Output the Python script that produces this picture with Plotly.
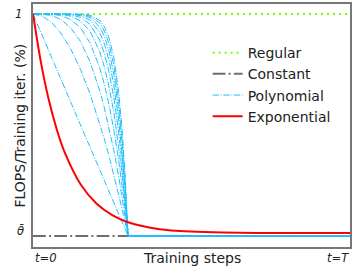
import plotly.graph_objects as go

# ---- data ----
t_regular = [0.0, 1.0]
y_regular = [1.0, 1.0]

theta = 0.1
t_constant = [0.0, 1.0]
y_constant = [theta, theta]

t_poly = [0, 0.03, 0.06, 0.09, 0.12, 0.15, 0.18, 0.21, 0.225, 0.24, 0.255, 0.27, 0.28, 0.29, 0.30, 1.0]
poly_p1 = [1, .91, .82, .73, .64, .55, .46, .37, .325, .28, .235, .19, .16, .13, .1, .1]
poly_p2 = [1, .991, .964, .919, .856, .775, .676, .559, .494, .424, .350, .271, .216, .159, .1, .1]
poly_p3 = [1, .999, .993, .976, .942, .888, .806, .691, .620, .539, .447, .344, .268, .187, .1, .1]
poly_p4 = [1, 1, .999, .993, .977, .944, .883, .784, .715, .631, .530, .410, .317, .214, .1, .1]
poly_p5 = [1, 1, 1, .998, .991, .972, .930, .849, .786, .705, .601, .469, .363, .240, .1, .1]
poly_p6 = [1, 1, 1, .999, .996, .986, .958, .894, .840, .764, .661, .522, .405, .265, .1, .1]
poly_p7 = [1, 1, 1, 1, .999, .993, .975, .926, .880, .811, .711, .570, .445, .290, .1, .1]
poly_p8 = [1, 1, 1, 1, .999, .996, .985, .948, .910, .849, .755, .613, .482, .314, .1, .1]
poly_p9 = [1, 1, 1, 1, 1, .998, .991, .964, .932, .879, .792, .651, .516, .336, .1, .1]
poly_p10 = [1, 1, 1, 1, 1, .999, .995, .975, .949, .903, .823, .686, .549, .359, .1, .1]
poly_series = [poly_p1, poly_p2, poly_p3, poly_p4, poly_p5,
               poly_p6, poly_p7, poly_p8, poly_p9, poly_p10]

t_exp = [0, 0.025, 0.05, 0.075, 0.1, 0.15, 0.2, 0.25, 0.3, 0.4, 0.5, 0.6, 0.8, 1.0]
y_exp = [1.0, 0.804, 0.651, 0.532, 0.439, 0.310, 0.232, 0.185, 0.156, 0.128, 0.118, 0.114, 0.112, 0.112]

series_names = ["Regular", "Constant", "Polynomial", "Exponential"]
x_tick_labels = ["t=0", "t=T"]
y_tick_labels = ["1", "θ̄"]
x_title = "Training steps"
y_title = "FLOPS/Training iter. (%)"

FONT = "DejaVu Sans"

fig = go.Figure()

fig.add_trace(go.Scatter(
    x=t_regular, y=y_regular, mode="lines", name=series_names[0],
    line=dict(color="#7CFC00", width=2, dash="2px,4px")))

fig.add_trace(go.Scatter(
    x=t_constant, y=y_constant, mode="lines", name=series_names[1],
    line=dict(color="#6e6e6e", width=2, dash="12.8px,3.2px,2px,3.2px")))

for i, ys in enumerate(poly_series):
    fig.add_trace(go.Scatter(
        x=t_poly, y=ys, mode="lines", name=series_names[2],
        showlegend=(i == 0), legendgroup="poly",
        line=dict(color="#1EBFFF", width=1, dash="6.4px,1.6px,1px,1.6px")))

fig.add_trace(go.Scatter(
    x=t_exp, y=y_exp, mode="lines", name=series_names[3],
    line=dict(color="#FF0000", width=2, shape="spline", smoothing=0.8)))

axis_line = dict(showline=True, linecolor="#777777", linewidth=1.5, mirror=True,
                 showgrid=False, zeroline=False, ticks="", showticklabels=False)

fig.update_layout(
    width=354, height=273,
    margin=dict(l=33, r=2, t=3, b=26),
    paper_bgcolor="white", plot_bgcolor="white",
    font=dict(family=FONT, size=14, color="#222222"),
    xaxis=dict(range=[0, 1], **axis_line),
    yaxis=dict(range=[0.0556, 1.0404], **axis_line),
    showlegend=True,
    legend=dict(x=0.551, y=0.864, xanchor="left", yanchor="top",
                bgcolor="rgba(0,0,0,0)", font=dict(family=FONT, size=14, color="#222222"),
                tracegroupgap=0),
)

# tick labels and titles as annotations
fig.add_annotation(x=0, y=0, xref="x", yref="paper", yshift=-11, text="<i>" + x_tick_labels[0] + "</i>",
                   showarrow=False, xanchor="left", yanchor="middle", font=dict(size=11.5, family=FONT))
fig.add_annotation(x=1, y=0, xref="x", yref="paper", xshift=1, yshift=-11, text="<i>" + x_tick_labels[1] + "</i>",
                   showarrow=False, xanchor="right", yanchor="middle", font=dict(size=11.5, family=FONT))
fig.add_annotation(x=0, y=1.0, xref="paper", yref="y", xshift=-15, text="<i>" + y_tick_labels[0] + "</i>",
                   showarrow=False, xanchor="center", yanchor="middle", font=dict(size=11.5, family=FONT))
fig.add_annotation(x=0, y=theta, xref="paper", yref="y", xshift=-13, yshift=5, text="<i>" + y_tick_labels[1] + "</i>",
                   showarrow=False, xanchor="center", yanchor="middle", font=dict(size=11.5, family=FONT))
fig.add_annotation(x=0.5, y=0, xref="paper", yref="paper", yshift=-11, text=x_title,
                   showarrow=False, xanchor="center", yanchor="middle", font=dict(size=14, family=FONT))
fig.add_annotation(x=0, y=0.5, xref="paper", yref="paper", xshift=-14, text=y_title, textangle=-90,
                   showarrow=False, xanchor="center", yanchor="middle", font=dict(size=14, family=FONT))

fig.write_html("out.html", config={"displayModeBar": False},
               post_script="document.body.style.margin='0';document.body.style.padding='0';")
